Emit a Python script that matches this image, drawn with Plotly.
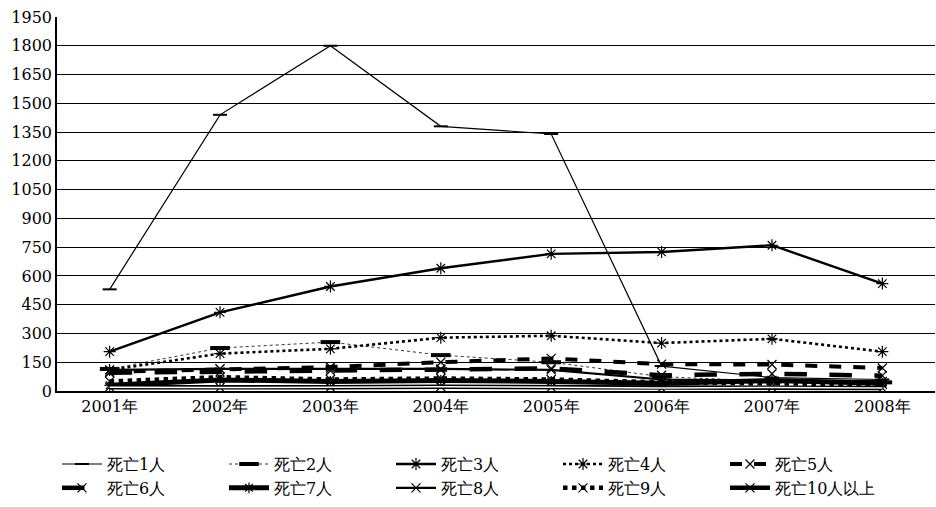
import plotly.graph_objects as go

years = ["2001年", "2002年", "2003年", "2004年", "2005年", "2006年", "2007年", "2008年"]

d1 = [530, 1440, 1800, 1380, 1340, 130, 70, 60]
d2 = [115, 224, 255, 187, 150, 75, 50, 45]
d3 = [205, 410, 545, 640, 715, 725, 760, 560]
d4 = [110, 195, 220, 278, 288, 250, 272, 205]
d5 = [100, 115, 125, 150, 170, 140, 138, 120]
d6 = [95, 100, 105, 110, 118, 82, 90, 80]
d7 = [30, 58, 50, 55, 50, 40, 55, 40]
d8 = [110, 115, 115, 115, 110, 60, 55, 50]
d9 = [50, 72, 60, 65, 60, 45, 40, 35]
d10 = [20, 18, 20, 22, 20, 15, 18, 15]

y_ticks = [0, 150, 300, 450, 600, 750, 900, 1050, 1200, 1350, 1500, 1650, 1800, 1950]

FONT = "DejaVu Serif, serif"

fig = go.Figure()


def add(name, vals, width, dash, symbol, msize, mwidth=1.2, show=True, color="black", group=None):
    fig.add_trace(go.Scatter(
        x=years, y=vals, name=name, mode="lines+markers",
        line=dict(color=color, width=width, dash=dash),
        marker=dict(symbol=symbol, size=msize, color=color,
                    line=dict(color=color, width=mwidth)),
        showlegend=show, legendgroup=group or name,
    ))


add("死亡1人", d1, 1.2, "solid", "line-ew-open", 10, 2)
add("死亡2人", d2, 0.8, "dot", "line-ew-open", 14, 4)
add("死亡3人", d3, 2.4, "solid", "asterisk-open", 10)
add("死亡4人", d4, 2.6, "dot", "asterisk-open", 10)
add("死亡5人", d5, 4, "dash", "x-thin-open", 9)
add("死亡6人", d6, 4.5, "longdash", "x-thin-open", 9)
add("死亡7人", d7, 5, "solid", "asterisk-open", 9)
add("死亡8人", d8, 2.2, "solid", "x-thin-open", 9)
add("死亡9人", d9, 4.5, "dot", "x-thin-open", 9)
# double line: wide black stroke with a white core
add("死亡10人以上", d10, 4.5, "solid", "x-thin-open", 9, group="d10")
fig.add_trace(go.Scatter(
    x=years, y=d10, mode="lines", line=dict(color="white", width=1.5),
    showlegend=False, legendgroup="d10", hoverinfo="skip",
))

fig.update_layout(
    width=936, height=507,
    margin=dict(l=57, r=1, t=17, b=116, autoexpand=False),
    paper_bgcolor="white", plot_bgcolor="white",
    font=dict(family=FONT, size=16, color="black"),
    xaxis=dict(
        type="category", showline=True, linecolor="black", linewidth=1.5,
        showgrid=False, ticks="", tickfont=dict(size=16),
    ),
    yaxis=dict(
        range=[0, 1950], tickvals=y_ticks, showline=True, linecolor="black",
        linewidth=1.5, showgrid=True, gridcolor="black", gridwidth=1,
        zeroline=False, ticks="", tickfont=dict(size=16),
    ),
    legend=dict(
        orientation="h", x=0.0, xanchor="left", y=-0.15, yanchor="top",
        entrywidth=112, entrywidthmode="pixels", font=dict(size=16),
        tracegroupgap=0, itemwidth=40,
    ),
)

fig.write_html("out.html")
